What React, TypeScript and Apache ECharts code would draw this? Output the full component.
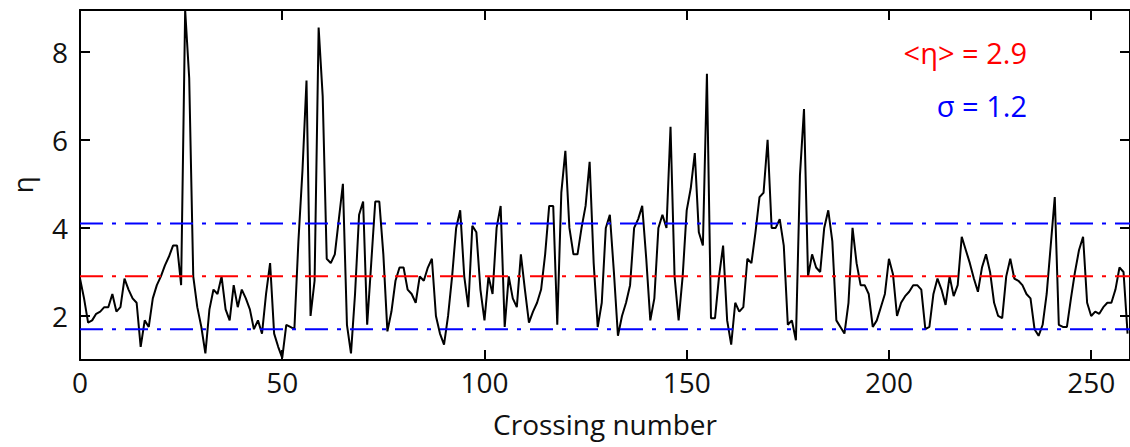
import React, { useEffect, useRef } from "react";
import * as echarts from "echarts";

// η value per crossing number (index 0..259)
const eta: number[] = [
  2.85, 2.4, 1.85, 1.9, 2.05, 2.1, 2.2, 2.2, 2.5, 2.1,
  2.2, 2.85, 2.6, 2.4, 2.3, 1.3, 1.9, 1.75, 2.4, 2.7,
  2.9, 3.15, 3.35, 3.6, 3.6, 2.7, 8.95, 7.4, 2.9, 2.2,
  1.75, 1.15, 2.15, 2.6, 2.5, 2.9, 2.15, 1.9, 2.7, 2.2,
  2.6, 2.4, 2.15, 1.7, 1.9, 1.6, 2.5, 3.2, 1.6, 1.3,
  1.05, 1.8, 1.75, 1.7, 3.7, 5.3, 7.35, 2.0, 2.8, 8.55,
  7.0, 3.3, 3.2, 3.4, 4.2, 5.0, 1.8, 1.15, 2.5, 4.3,
  4.6, 1.8, 3.2, 4.6, 4.6, 3.4, 1.65, 2.1, 2.8, 3.1,
  3.1, 2.6, 2.5, 2.3, 2.9, 2.8, 3.1, 3.3, 2.0, 1.6,
  1.35, 2.0, 2.9, 4.0, 4.4, 2.9, 2.2, 4.05, 3.9, 2.6,
  1.9, 2.9, 2.5, 4.0, 4.5, 1.75, 2.9, 2.4, 2.2, 3.4,
  2.6, 1.85, 2.1, 2.3, 2.6, 3.4, 4.5, 4.5, 1.8, 4.8,
  5.75, 4.0, 3.4, 3.4, 4.0, 4.5, 5.5, 3.2, 1.75, 2.3,
  4.0, 4.3, 3.0, 1.55, 2.0, 2.3, 2.7, 4.0, 4.2, 4.5,
  3.3, 1.9, 2.4, 4.0, 4.3, 4.0, 6.3, 2.9, 1.9, 2.9,
  4.4, 4.9, 5.7, 3.9, 3.6, 7.5, 1.95, 1.95, 2.9, 3.6,
  1.9, 1.35, 2.3, 2.1, 2.2, 3.3, 3.2, 3.9, 4.7, 4.8,
  6.0, 4.0, 4.0, 4.2, 3.6, 1.8, 1.9, 1.45, 5.2, 6.7,
  2.9, 3.4, 3.1, 3.0, 4.0, 4.4, 3.7, 1.9, 1.75, 1.6,
  2.3, 4.0, 3.2, 2.7, 2.7, 2.5, 1.75, 1.9, 2.2, 2.5,
  3.3, 2.95, 2.0, 2.3, 2.45, 2.55, 2.7, 2.7, 2.6, 1.7,
  1.75, 2.5, 2.85, 2.6, 2.25, 2.9, 2.45, 2.7, 3.8, 3.5,
  3.2, 2.85, 2.55, 3.1, 3.4, 3.0, 2.3, 2.0, 1.95, 2.9,
  3.3, 2.85, 2.8, 2.7, 2.5, 2.4, 1.7, 1.55, 1.8, 2.5,
  3.6, 4.7, 1.8, 1.75, 1.75, 2.4, 3.0, 3.5, 3.8, 2.3,
  2.0, 2.1, 2.05, 2.2, 2.3, 2.3, 2.6, 3.1, 3.0, 1.6,
];

const meanEta = 2.9;
const sigma = 1.2;
const xTicks = [0, 50, 100, 150, 200, 250];
const yTicks = [2, 4, 6, 8];
const xTitle = "Crossing number";
const yTitle = "η";
const meanLabel = "<η> = 2.9";
const sigmaLabel = "σ = 1.2";

export default function App() {
  const ref = useRef<HTMLDivElement>(null);

  useEffect(() => {
    document.body.style.margin = "0";
    if (!ref.current) return;
    const chart = echarts.init(ref.current, undefined, { renderer: "svg" });
    const fontFamily = "'Open Sans', sans-serif";
    const xMin = 0;
    const xMax = 259.6;
    const yMin = 1;
    const yMax = 8.95;
    const lineData = eta.map((v, i) => [i, v]);
    const hline = (y: number) => [
      [xMin, y],
      [xMax, y],
    ];
    const axisLine = { show: true, onZero: false, lineStyle: { color: "#000", width: 2 } };
    const tickStyle = { color: "#000", width: 2 };
    const dashDot = [23, 9, 4, 9];

    chart.setOption({
      animation: false,
      grid: { left: 79, top: 10, right: 0, bottom: 87, containLabel: false },
      xAxis: [
        {
          type: "value",
          position: "bottom",
          min: xMin,
          max: xMax,
          axisLine,
          axisTick: { show: true, inside: true, length: 10, customValues: xTicks, lineStyle: tickStyle },
          axisLabel: { customValues: xTicks, fontSize: 28, fontFamily, color: "#111", margin: 8 },
          splitLine: { show: false },
          name: xTitle,
          nameLocation: "middle",
          nameGap: 50,
          nameTextStyle: { fontSize: 28, fontFamily, color: "#111" },
        },
        {
          type: "value",
          position: "top",
          min: xMin,
          max: xMax,
          axisLine,
          axisTick: { show: true, inside: true, length: 10, customValues: xTicks, lineStyle: tickStyle },
          axisLabel: { show: false },
          splitLine: { show: false },
        },
      ],
      yAxis: [
        {
          type: "value",
          position: "left",
          min: yMin,
          max: yMax,
          axisLine,
          axisTick: { show: true, inside: true, length: 10, customValues: yTicks, lineStyle: tickStyle },
          axisLabel: { customValues: yTicks, fontSize: 28, fontFamily, color: "#111", margin: 12 },
          splitLine: { show: false },
          name: yTitle,
          nameLocation: "middle",
          nameGap: 44,
          nameRotate: 90,
          nameTextStyle: { fontSize: 28, fontFamily, color: "#111" },
        },
        {
          type: "value",
          position: "right",
          min: yMin,
          max: yMax,
          axisLine,
          axisTick: { show: true, inside: true, length: 10, customValues: yTicks, lineStyle: tickStyle },
          axisLabel: { show: false },
          splitLine: { show: false },
        },
      ],
      series: [
        {
          type: "line",
          data: lineData,
          showSymbol: false,
          lineStyle: { color: "#000", width: 2 },
          z: 2,
        },
        {
          type: "line",
          data: hline(meanEta),
          showSymbol: false,
          lineStyle: { color: "#ff0000", width: 2, type: dashDot },
          z: 3,
        },
        {
          type: "line",
          data: hline(meanEta + sigma),
          showSymbol: false,
          lineStyle: { color: "#0000ff", width: 2, type: dashDot },
          z: 3,
        },
        {
          type: "line",
          data: hline(meanEta - sigma),
          showSymbol: false,
          lineStyle: { color: "#0000ff", width: 2, type: dashDot },
          z: 3,
        },
      ],
      graphic: [
        {
          type: "text",
          right: 103,
          top: 38,
          style: { text: meanLabel, fill: "#ff0000", fontSize: 29, fontFamily },
        },
        {
          type: "text",
          right: 103,
          top: 91,
          style: { text: sigmaLabel, fill: "#0000ff", fontSize: 29, fontFamily },
        },
      ],
    });

    return () => {
      chart.dispose();
    };
  }, []);

  return <div ref={ref} style={{ width: 1130, height: 447 }} />;
}
